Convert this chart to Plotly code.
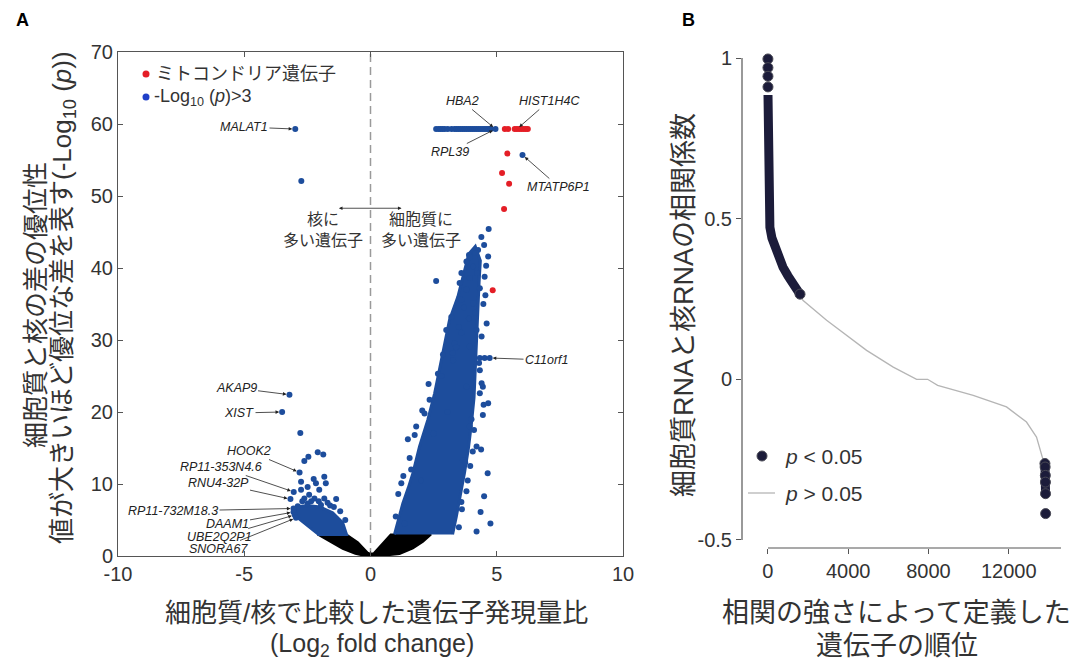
import plotly.graph_objects as go

W, H = 1083, 664

# ---------------- Panel A data (volcano plot) ----------------
# non-significant region (-log10 p <= 3), outline of the dense black area
nonsig_fc = [-2.1, -1.6, -1.1, -0.6, -0.2, 0.0, 0.4, 1.15, 1.68, 2.08, 2.4, 0.8, 0.5, 0.13, 0.0, -0.11, -0.5, -0.96]
nonsig_logp = [3.0, 2.0, 1.0, 0.3, 0.0, 0.0, 0.0, 0.28, 1.06, 2.0, 3.0, 3.0, 1.8, 0.4, 0.3, 0.46, 1.9, 3.0]

# dense blue cloud of cytoplasm-enriched genes (outline)
cyto_cloud_fc = [0.95, 1.1, 1.28, 1.5, 1.68, 1.94, 2.27, 2.54, 2.74, 2.94, 3.13, 3.46, 3.73, 3.9, 4.15,
                 4.35, 4.3, 4.25, 4.22, 4.18, 4.1, 4.0, 3.88, 3.72, 3.55, 3.4, 3.25]
cyto_cloud_logp = [3.0, 5.0, 7.3, 9.5, 11.5, 15.2, 18.9, 22.6, 26.3, 29.5, 32.8, 36.0, 39.7, 42.0, 43.0,
                   41.0, 38.0, 34.0, 30.0, 26.0, 22.0, 18.5, 15.0, 11.5, 8.0, 5.5, 3.0]

# dense blue cluster of nucleus-enriched genes (outline)
nuc_cloud_fc = [-2.95, -2.5, -2.0, -1.5, -1.1, -0.95, -2.05, -2.5, -2.95]
nuc_cloud_logp = [6.8, 7.0, 6.8, 6.0, 4.6, 3.0, 3.0, 4.2, 5.5]

# individual significant genes (-log10 p > 3)
sig_fc = [
    -2.98, -2.74, -3.21, -3.5, -2.78, -2.46, -2.62, -2.09, -1.87, -2.81, -2.75, -2.25, -1.83, -2.16,
    -1.77, -2.49, -3.04, -2.75, -2.03, -2.43, -3.17, -2.62, -2.22, -1.83, -1.36, -2.88, -2.49, -1.96,
    -1.6, -1.2, -1.0, -3.05, -3.05, -3.0, -2.95, -2.35, -1.45, -2.7, -1.7, -2.05,
    2.6, 2.7, 2.78, 2.86, 2.94, 3.06, 3.21, 3.33, 3.41, 3.49, 3.57, 3.65, 3.73, 3.81, 3.89, 3.97,
    4.05, 4.13, 4.21, 4.29, 4.37, 4.45, 4.53, 4.61, 4.68, 4.76, 4.95,
    6.02, 4.33, 4.52, 4.72,
    4.68, 4.39, 4.5, 4.26, 4.17, 3.9, 4.66, 3.8, 4.06, 4.22, 3.6, 4.52, 3.93, 3.53, 4.33, 3.8, 3.6,
    4.06, 3.2, 3.9, 4.6, 3.0, 3.6, 4.2, 3.33, 3.93, 2.87, 3.27, 4.33, 2.67, 3.8, 4.33, 2.34,
    4.66, 2.14, 3.93, 1.81, 4.2, 1.48, 3.66, 1.61, 1.22,
    4.5, 4.45, 4.05, 3.85, 3.6, 4.75, 4.4, 4.0, 3.75, 1.0, 1.35, 2.0, 2.5, 2.8, 3.4, 3.7, 3.93, 4.64,
    4.45, 4.55, 4.4, 4.48, 4.3, 4.1, 3.95, 3.8, 3.62, 3.5, 4.2, 4.38, 4.15, 3.05, 3.25, 3.5, 2.6,
    2.3, 2.05, 1.75, 1.55, 1.3, 1.1, 4.36, 4.58, 4.47,
]
sig_logp = [
    59.3, 52.1, 22.4, 20.0, 17.1, 13.8, 13.2, 14.4, 14.1, 11.6, 10.3, 10.7, 11.0, 10.1,
    10.1, 9.6, 8.9, 9.2, 9.2, 8.5, 7.9, 8.0, 8.0, 8.0, 7.9, 6.9, 7.3, 7.1,
    7.0, 6.2, 5.0, 6.6, 6.1, 5.7, 5.3, 7.6, 6.8, 7.6, 7.4, 7.6,
    59.3, 59.3, 59.3, 59.3, 59.3, 59.3, 59.3, 59.3, 59.3, 59.3, 59.3, 59.3, 59.3, 59.3, 59.3, 59.3,
    59.3, 59.3, 59.3, 59.3, 59.3, 59.3, 59.3, 59.3, 59.3, 59.3, 59.3,
    55.7, 27.5, 27.5, 27.5,
    45.4, 44.3, 43.2, 42.5, 42.1, 41.8, 41.6, 40.9, 40.2, 39.3, 39.3, 38.8, 38.6, 37.9, 37.2, 37.0, 35.6,
    35.1, 33.2, 33.0, 32.3, 31.4, 31.0, 31.4, 29.5, 29.1, 28.0, 27.2, 25.8, 25.3, 23.5, 22.6, 21.7, 21.2,
    19.8, 18.0, 18.0, 15.2, 16.2, 13.3, 12.0, 10.1, 8.3,
    23.5, 14.5, 10.5, 7.5, 4.5, 24.0, 19.0, 13.0, 5.5, 4.5, 10.5, 17.0, 25.0, 29.0, 34.5, 41.5, 11.5, 19.6,
    36.2, 30.5, 21.0, 26.8, 17.5, 12.5, 9.0, 6.5, 4.0, 3.4, 14.8, 33.8, 20.0, 28.2, 31.8, 38.2, 23.9,
    20.2, 16.8, 13.6, 11.1, 8.6, 6.1, 40.3, 35.0, 29.6,
]

# mitochondrial genes
mito_fc = [5.32, 5.45, 5.71, 5.8, 5.89, 5.98, 6.07, 6.15, 6.23, 5.42, 5.21, 5.49, 5.29, 4.84]
mito_logp = [59.3, 59.3, 59.3, 59.3, 59.3, 59.3, 59.3, 59.3, 59.3, 55.9, 53.2, 51.7, 48.2, 36.9]

# labelled genes: name, fold change, -log10 p, label centre (pixels)
gene_names = ["MALAT1", "AKAP9", "XIST", "HOOK2", "RP11-353N4.6", "RNU4-32P", "RP11-732M18.3",
              "DAAM1", "UBE2Q2P1", "SNORA67", "HBA2", "RPL39", "HIST1H4C", "MTATP6P1", "C11orf1"]
gene_fc = [-2.98, -3.21, -3.5, -2.81, -3.04, -3.17, -3.05, -3.05, -3.0, -2.95, 4.95, 4.95, 5.8, 6.02, 4.72]
gene_logp = [59.3, 22.4, 20.0, 11.6, 8.9, 7.9, 6.6, 6.1, 5.7, 5.3, 59.3, 59.3, 59.3, 55.7, 27.5]
label_px = [244, 236, 239, 249, 221, 218, 173, 227, 219, 219, 462, 450, 549, 559, 547]
label_py = [127, 388, 413, 451, 467, 483, 511, 524, 537, 549, 101, 152, 101, 187, 360]

x_ticks_a = [-10, -5, 0, 5, 10]
x_ticktext_a = ["-10", "-5", "0", "5", "10"]
y_ticks_a = [0, 10, 20, 30, 40, 50, 60, 70]

# ---------------- Panel B data (rank vs correlation) ----------------
b_sig_top_rank = [5, 10, 15, 20, 35, 50, 100, 200, 350, 550, 750, 1000, 1200, 1400, 1600]
b_sig_top_r = [0.885, 0.80, 0.744, 0.68, 0.60, 0.536, 0.473, 0.44, 0.411, 0.375, 0.349, 0.322, 0.302, 0.283, 0.265]
b_sig_dot_rank = [1, 2, 3, 4, 1600, 13800, 13810, 13820, 13825, 13830, 13835]
b_sig_dot_r = [0.997, 0.97, 0.943, 0.91, 0.265, -0.262, -0.273, -0.299, -0.32, -0.356, -0.418]
b_sig_bot_rank = [13800, 13810, 13820, 13825, 13830]
b_sig_bot_r = [-0.262, -0.273, -0.299, -0.32, -0.356]
b_ns_rank = [1600, 1743, 2924, 3587, 4916, 6245, 7408, 7956, 8454, 10227, 11886, 12882, 13380, 13713, 13800]
b_ns_r = [0.265, 0.246, 0.184, 0.153, 0.090, 0.038, 0.0, 0.0, -0.019, -0.05, -0.086, -0.133, -0.18, -0.252, -0.262]

x_ticks_b = [0, 4000, 8000, 12000]
x_ticktext_b = ["0", "4000", "8000", "12000"]
y_ticks_b = [-0.5, 0, 0.5, 1]
y_ticktext_b = ["-0.5", "0", "0.5", "1"]

# ---------------- styling ----------------
FONT = "Arial, 'Liberation Sans', 'Noto Sans CJK JP', sans-serif"
TXT = "#333333"
BLUE = "#1d4d9c"
RED = "#e41e26"
NAVY = "#1c1c3a"
GREY = "#b5b5b5"
AX = "#555555"


def px(x):
    return x / W


def py(y):
    return 1 - y / H


# panel pixel geometry
A_L, A_R, A_T, A_B = 118, 623, 52, 556
B_L, B_R, B_T, B_B = 742, 1061, 58, 548


def a_x2px(v):
    return A_L + (v + 10) / 20 * (A_R - A_L)


def a_y2px(v):
    return A_B - v / 70 * (A_B - A_T)


fig = go.Figure()

fig.add_trace(go.Scatter(x=nonsig_fc, y=nonsig_logp, mode="lines", fill="toself",
                         fillcolor="black", line=dict(color="black", width=2),
                         hoverinfo="skip", showlegend=False, xaxis="x", yaxis="y"))
fig.add_trace(go.Scatter(x=cyto_cloud_fc, y=cyto_cloud_logp, mode="lines", fill="toself",
                         fillcolor=BLUE, line=dict(color=BLUE, width=3),
                         hoverinfo="skip", showlegend=False, xaxis="x", yaxis="y"))
fig.add_trace(go.Scatter(x=nuc_cloud_fc, y=nuc_cloud_logp, mode="lines", fill="toself",
                         fillcolor=BLUE, line=dict(color=BLUE, width=3),
                         hoverinfo="skip", showlegend=False, xaxis="x", yaxis="y"))
fig.add_trace(go.Scatter(x=sig_fc, y=sig_logp, mode="markers",
                         marker=dict(color=BLUE, size=6, line=dict(width=0)),
                         showlegend=False, xaxis="x", yaxis="y"))
fig.add_trace(go.Scatter(x=mito_fc, y=mito_logp, mode="markers",
                         marker=dict(color=RED, size=6, line=dict(width=0)),
                         showlegend=False, xaxis="x", yaxis="y"))

# panel B
fig.add_trace(go.Scatter(x=b_ns_rank, y=b_ns_r, mode="lines",
                         line=dict(color=GREY, width=1.3), showlegend=False,
                         xaxis="x2", yaxis="y2", cliponaxis=False))
fig.add_trace(go.Scatter(x=b_sig_top_rank, y=b_sig_top_r, mode="lines",
                         line=dict(color=NAVY, width=9), showlegend=False,
                         xaxis="x2", yaxis="y2", cliponaxis=False))
fig.add_trace(go.Scatter(x=b_sig_bot_rank, y=b_sig_bot_r, mode="lines",
                         line=dict(color=NAVY, width=9), showlegend=False,
                         xaxis="x2", yaxis="y2", cliponaxis=False))
fig.add_trace(go.Scatter(x=b_sig_dot_rank, y=b_sig_dot_r, mode="markers",
                         marker=dict(color=NAVY, size=10, line=dict(color="#4a4a55", width=1)),
                         showlegend=False, xaxis="x2", yaxis="y2", cliponaxis=False))

axis_common = dict(showgrid=False, zeroline=False, automargin=False,
                   tickfont=dict(size=20, color=TXT, family=FONT),
                   tickcolor=AX, ticklen=5, tickwidth=1)

fig.update_layout(
    width=W, height=H, margin=dict(l=0, r=0, t=0, b=0, autoexpand=False),
    paper_bgcolor="white", plot_bgcolor="white",
    font=dict(family=FONT, color=TXT),
    xaxis=dict(domain=[px(A_L), px(A_R)], range=[-10, 10], tickvals=x_ticks_a, ticktext=x_ticktext_a,
               ticks="inside", showline=True, mirror="ticks", linecolor=AX, linewidth=1, anchor="y",
               **axis_common),
    yaxis=dict(domain=[py(A_B), py(A_T)], range=[0, 70], tickvals=y_ticks_a, ticks="inside",
               showline=True, mirror="ticks", linecolor=AX, linewidth=1, anchor="x", **axis_common),
    xaxis2=dict(domain=[px(B_L), px(B_R)], range=[-1290, 14600], tickvals=x_ticks_b,
                ticktext=x_ticktext_b, ticks="outside", showline=False, anchor="y2", **axis_common),
    yaxis2=dict(domain=[py(B_B), py(B_T)], range=[-0.525, 1.0], tickvals=y_ticks_b,
                ticktext=y_ticktext_b, ticks="outside", showline=False, anchor="x2", **axis_common),
)

shapes = []
# dashed zero line
shapes.append(dict(type="line", xref="x", yref="y", x0=0, x1=0, y0=0, y1=70,
                   line=dict(color="#9a9a9a", width=1.5, dash="8px,5px"), layer="below"))
# panel B axis lines (offset spines)
shapes.append(dict(type="line", xref="paper", yref="paper", x0=px(B_L), x1=px(B_L),
                   y0=py(540), y1=py(B_T), line=dict(color=AX, width=1.2)))
shapes.append(dict(type="line", xref="paper", yref="paper", x0=px(768), x1=px(B_R),
                   y0=py(B_B), y1=py(B_B), line=dict(color=AX, width=1.2)))


def circle(cx, cy, r, fill, outline=None):
    return dict(type="circle", xref="paper", yref="paper",
                x0=px(cx - r), x1=px(cx + r), y0=py(cy + r), y1=py(cy - r),
                fillcolor=fill, line=dict(color=outline or fill, width=1 if outline else 0))


# legend markers
shapes.append(circle(146, 74, 3.5, RED))
shapes.append(circle(146, 97, 3.5, "#2040c8"))
shapes.append(circle(762, 456, 5, NAVY, "#4a4a55"))
shapes.append(dict(type="line", xref="paper", yref="paper", x0=px(748), x1=px(775),
                   y0=py(493), y1=py(493), line=dict(color=GREY, width=1.3)))
fig.update_layout(shapes=shapes)

ann = []


def text(t, x, y, size, xanchor="center", angle=0, **kw):
    ann.append(dict(text=t, xref="paper", yref="paper", x=px(x), y=py(y), showarrow=False,
                    xanchor=xanchor, yanchor="middle", textangle=angle,
                    font=dict(size=size, color=kw.pop("color", TXT), family=FONT), **kw))


text("<b>A</b>", 22, 20, 18, color="black")
text("<b>B</b>", 688, 20, 18, color="black")

# legend A
text("ミトコンドリア遺伝子", 154, 74, 18, xanchor="left")
text("-Log<sub>10</sub> (<i>p</i>)>3", 152, 97, 18, xanchor="left")

# legend B
text("<i>p</i> < 0.05", 783, 456, 21, xanchor="left")
text("<i>p</i> > 0.05", 783, 493, 21, xanchor="left")

# axis titles A
text("細胞質と核の差の優位性", 36, 305, 26, angle=-90)
text("値が大きいほど優位な差を表す(-Log<sub>10</sub> (<i>p</i>))", 63, 298, 26, angle=-90)
text("細胞質/核で比較した遺伝子発現量比", 376, 613, 26)
text("(Log<sub>2</sub> fold change)", 372, 645, 25)

# axis titles B
text("細胞質RNAと核RNAの相関係数", 684, 305, 27, angle=-90)
text("相関の強さによって定義した", 896, 613, 27)
text("遺伝子の順位", 897, 646, 27)

# direction annotation
text("核に<br>多い遺伝子", 323, 230, 16)
text("細胞質に<br>多い遺伝子", 421, 230, 16)
ann.append(dict(x=1.23, y=48.3, ax=-1.31, ay=48.3, xref="x", yref="y", axref="x", ayref="y",
                text="", showarrow=True, arrowhead=2, arrowside="end+start", arrowsize=0.9,
                arrowwidth=0.8, arrowcolor="#222222"))

# gene labels
for name, gx, gy, lx, ly in zip(gene_names, gene_fc, gene_logp, label_px, label_py):
    ann.append(dict(x=gx, y=gy, xref="x", yref="y", text=f"<i>{name}</i>", showarrow=True,
                    ax=lx - a_x2px(gx), ay=ly - a_y2px(gy), arrowhead=2, arrowsize=0.9,
                    arrowwidth=0.8, arrowcolor="#222222", standoff=3,
                    font=dict(size=12.5, color="#222222", family=FONT)))

fig.update_layout(annotations=ann)

fig.write_html("out.html", config={"displayModeBar": False},
               post_script="document.body.style.margin='0px';")
